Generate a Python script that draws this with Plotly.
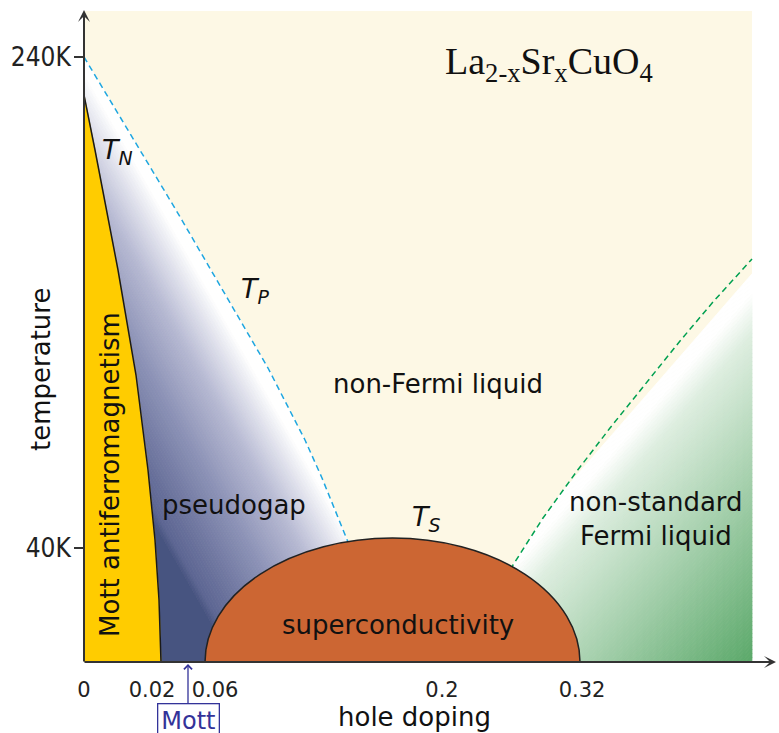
import plotly.graph_objects as go

# ---------------- schematic data (diagram units: u = doping axis, v = temperature axis) ----------------
# T_N boundary (edge of Mott antiferromagnetism)
tn_u = [0, 11, 34, 52, 64, 71, 75, 77]
tn_v = [567, 512, 392, 287, 192, 122, 62, 0]
# T_P pseudogap crossover (dashed blue)
tp_u = [0, 92, 184, 221, 238, 264, 268]
tp_v = [605, 452, 294, 222, 184, 120, 106]
# crossover to non-standard Fermi liquid (dashed green)
fl_u = [427, 429, 459, 493, 526, 559, 596, 629, 668]
fl_v = [92, 97, 144, 191, 234, 275, 321, 360, 403]
# superconducting dome: onset, end, maximum
dome_u = [121, 496]
dome_top = 124
# frame of the diagram
frame_right = 668
frame_top = 651

x_tickvals = [0, 68, 131, 358, 498]
x_ticktext = ["0", "0.02", "0.06", "0.2", "0.32"]
y_tickvals = [605, 114]
y_ticktext = ["240K", "40K"]
mott_u = 104

XR = [0, 695]
YR = [0, 662]

# ---------------- helpers ----------------
def clip(poly, a, b, c):
    """keep part of polygon where a*u + b*v + c >= 0"""
    out = []
    n = len(poly)
    for i in range(n):
        p = poly[i]
        q = poly[(i + 1) % n]
        fp = a * p[0] + b * p[1] + c
        fq = a * q[0] + b * q[1] + c
        if fp >= 0:
            out.append(p)
        if (fp >= 0) != (fq >= 0):
            t = fp / (fp - fq)
            out.append((p[0] + t * (q[0] - p[0]), p[1] + t * (q[1] - p[1])))
    return out


def interp(stops, t):
    if t <= stops[0][0]:
        return stops[0][1]
    for (t0, c0), (t1, c1) in zip(stops[:-1], stops[1:]):
        if t <= t1:
            f = (t - t0) / (t1 - t0)
            return tuple(c0[k] + f * (c1[k] - c0[k]) for k in range(3))
    return stops[-1][1]


def rgb(c):
    return "rgb(%d,%d,%d)" % tuple(int(round(x)) for x in c)


def px_u(u):
    return (u - XR[0]) / (XR[1] - XR[0])


def px_v(v):
    return (v - YR[0]) / (YR[1] - YR[0])


fig = go.Figure()


def add_poly(poly, color):
    if len(poly) < 3:
        return
    us = [p[0] for p in poly] + [poly[0][0]]
    vs = [p[1] for p in poly] + [poly[0][1]]
    fig.add_trace(go.Scatter(x=us, y=vs, mode="lines", fill="toself",
                             fillcolor=color, line=dict(color=color, width=0.8),
                             hoverinfo="skip", showlegend=False))


# ---------------- pseudogap gradient ----------------
pg_poly = list(zip(tp_u, tp_v)) + [(tp_u[-1], 0)] + list(zip(tn_u[::-1], tn_v[::-1]))
K = 1.75
C0 = 610.0
pg_stops = [(12, (255, 255, 255)), (30, (230, 231, 240)), (67, (183, 186, 211)),
            (117, (141, 147, 183)), (167, (107, 115, 157)), (192, (92, 101, 146)),
            (200, (71, 84, 128))]
edges = list(range(-20, 201, 3)) + [500]
for h0, h1 in zip(edges[:-1], edges[1:]):
    p = clip(pg_poly, -1.0, -1.0 / K, C0 / K - h0)
    p = clip(p, 1.0, 1.0 / K, h1 - C0 / K)
    add_poly(p, rgb(interp(pg_stops, 0.5 * (h0 + min(h1, 205)))))

# ---------------- Mott antiferromagnet ----------------
af_poly = [(0, 0)] + list(zip(tn_u, tn_v))
add_poly(af_poly, "#FFCC00")

# ---------------- non-standard Fermi liquid gradient ----------------
fl_poly = list(zip(fl_u, fl_v)) + [(frame_right, 0), (fl_u[0], 0)]
G = 1.15
g_stops = [(400, (255, 255, 255)), (440, (222, 238, 224)), (770, (90, 168, 105))]
gedges = list(range(380, 781, 4))
for g0, g1 in zip(gedges[:-1], gedges[1:]):
    p = clip(fl_poly, G, -1.0, -g0)
    p = clip(p, -G, 1.0, g1)
    add_poly(p, rgb(interp(g_stops, 0.5 * (g0 + g1))))

# ---------------- boundary lines ----------------
fig.add_trace(go.Scatter(x=tn_u, y=tn_v, mode="lines",
                         line=dict(color="#1a1a1a", width=1.5),
                         hoverinfo="skip", showlegend=False))
fig.add_trace(go.Scatter(x=tp_u, y=tp_v, mode="lines",
                         line=dict(color="#1EA6E0", width=1.5, dash="6px,4px"),
                         hoverinfo="skip", showlegend=False))
fig.add_trace(go.Scatter(x=fl_u, y=fl_v, mode="lines",
                         line=dict(color="#00A050", width=1.5, dash="6px,4px"),
                         hoverinfo="skip", showlegend=False))

# ---------------- shapes ----------------
shapes = [
    dict(type="rect", xref="x", yref="y", x0=0, x1=frame_right, y0=0, y1=frame_top,
         fillcolor="#FDF8E5", line=dict(width=0), layer="below"),
    dict(type="circle", xref="x", yref="y", x0=dome_u[0], x1=dome_u[1],
         y0=-dome_top, y1=dome_top, fillcolor="#CC6633",
         line=dict(color="#222222", width=1.5), layer="above"),
]

SANS = "DejaVu Sans"
TXT = "#111111"
ann = []


def label(text, u, v, size=26, angle=0, color=TXT, family=SANS):
    ann.append(dict(x=px_u(u), y=px_v(v), xref="paper", yref="paper", text=text,
                    showarrow=False, textangle=angle,
                    font=dict(family=family, size=size, color=color),
                    xanchor="center", yanchor="middle"))


label("La<sub>2-x</sub>Sr<sub>x</sub>CuO<sub>4</sub>", 465, 598, size=38,
      family="Liberation Serif, Times New Roman, serif")
label("<i>T</i><sub><i>N</i></sub>", 33, 510, size=27)
label("<i>T</i><sub><i>P</i></sub>", 171, 371, size=27)
label("<i>T</i><sub><i>S</i></sub>", 342, 144, size=27)
label("non-Fermi liquid", 354, 278)
label("pseudogap", 150, 157)
label("superconductivity", 314, 37)
label("non-standard<br>Fermi liquid", 572, 143)
label("Mott antiferromagnetism", 26, 187, angle=-90)
label("temperature", -43, 292, angle=-90)
label("hole doping", 330, -55)

# axes with arrowheads
ann.append(dict(x=0, y=frame_top + 1, ax=0, ay=-1, xref="x", yref="y", axref="x", ayref="y",
                text="", showarrow=True, arrowhead=3, arrowsize=1, arrowwidth=2,
                arrowcolor="#333333", standoff=0))
ann.append(dict(x=692, y=0, ax=-1, ay=0, xref="x", yref="y", axref="x", ayref="y",
                text="", showarrow=True, arrowhead=3, arrowsize=1, arrowwidth=2,
                arrowcolor="#333333", standoff=0))
# Mott point marker
ann.append(dict(x=px_u(mott_u), y=px_v(-2), xref="paper", yref="paper", ax=0, ay=57,
                text="Mott", showarrow=True, arrowhead=4, arrowsize=1.2, arrowwidth=1.3,
                arrowcolor="#333399", font=dict(family=SANS, size=24, color="#333399"),
                bordercolor="#333399", borderwidth=1.3, borderpad=3, bgcolor="white"))

fig.update_layout(
    width=779, height=733,
    margin=dict(l=84, r=0, t=0, b=71, pad=0, autoexpand=False),
    paper_bgcolor="white", plot_bgcolor="white",
    shapes=shapes, annotations=ann, hovermode=False, showlegend=False,
    xaxis=dict(range=XR, showgrid=False, zeroline=False, showline=False,
               tickmode="array", tickvals=x_tickvals, ticktext=x_ticktext, ticks="",
               tickfont=dict(family=SANS, size=21, color="#222222"),
               ticklabelstandoff=13, fixedrange=True, automargin=False),
    yaxis=dict(range=YR, showgrid=False, zeroline=False, showline=False,
               tickmode="array", tickvals=y_tickvals, ticktext=y_ticktext,
               ticks="outside", ticklen=9, tickwidth=1.5, tickcolor="#333333",
               tickfont=dict(family="DejaVu Sans Condensed, DejaVu Sans", size=26, color="#222222"),
               ticklabelstandoff=-2, fixedrange=True, automargin=False),
)

fig.write_html("out.html", config={"displayModeBar": False},
               post_script="document.body.style.margin='0px';")
